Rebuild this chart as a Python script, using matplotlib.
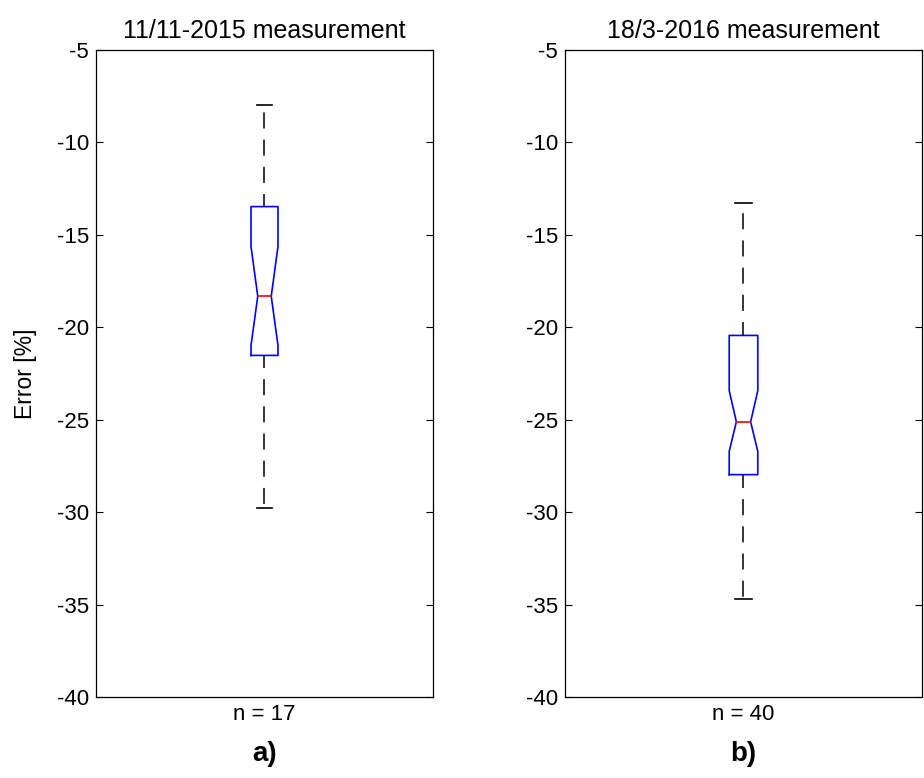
import matplotlib
matplotlib.use("Agg")
from matplotlib import pyplot as plt

plt.rcParams['font.family'] = ['Liberation Sans', 'DejaVu Sans']

titles = ["11/11-2015 measurement", "18/3-2016 measurement"]
n_labels = ["n = 17", "n = 40"]
panel_labels = ["a)", "b)"]

# box statistics (Error [%])
whislo = [-29.76, -34.68]
q1 = [-21.52, -27.97]
med = [-18.32, -25.11]
q3 = [-13.47, -20.44]
whishi = [-8.0, -13.25]
cilo = [-20.98, -26.71]
cihi = [-15.63, -23.43]

yticks = [-40, -35, -30, -25, -20, -15, -10, -5]

fig = plt.figure(figsize=(9.24, 7.78), dpi=100)
positions = [[0.1039, 0.1041, 0.3647, 0.8316],
             [0.6115, 0.1041, 0.3863, 0.8316]]

for i in range(2):
    ax = fig.add_axes(positions[i])
    stats = [dict(whislo=whislo[i], q1=q1[i], med=med[i], q3=q3[i],
                  whishi=whishi[i], cilo=cilo[i], cihi=cihi[i], fliers=[])]
    ax.bxp(stats, positions=[1], widths=0.08, capwidths=0.046,
           shownotches=True, showfliers=False,
           boxprops=dict(color="blue", lw=1.2),
           medianprops=dict(color="red", lw=1.2),
           whiskerprops=dict(color="black", lw=1.1, linestyle=(2, (10.5, 7.3))),
           capprops=dict(color="black", lw=1.2))
    ax.set_xlim(0.5, 1.5)
    ax.set_ylim(-40, -5)
    ax.set_yticks(yticks)
    ax.set_yticklabels([str(t) for t in yticks])
    ax.set_xticks([1])
    ax.set_xticklabels([n_labels[i]])
    ax.tick_params(axis="y", direction="in", length=5, left=True, right=True,
                   labelsize=16, pad=5)
    ax.tick_params(axis="x", length=0, labelsize=16, pad=5)
    for s in ax.spines.values():
        s.set_linewidth(0.9)
    ax.set_title(titles[i], fontsize=18, pad=9)
    ax.text(0.5, -0.088, panel_labels[i], transform=ax.transAxes,
            ha="center", va="center", fontsize=20, fontweight="bold")
    if i == 0:
        ax.set_ylabel("Error [%]", fontsize=16.5, labelpad=14)

fig.savefig("out.png", dpi=100)
